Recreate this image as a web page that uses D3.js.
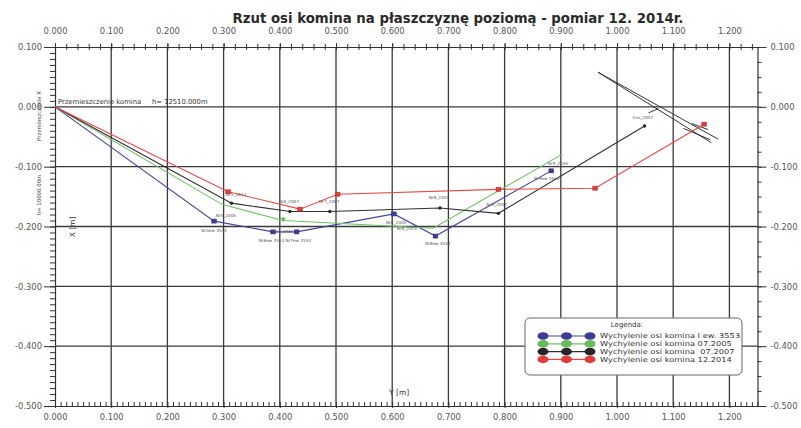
<!DOCTYPE html>
<html>
<head>
<meta charset="utf-8">
<script src="https://cdn.jsdelivr.net/npm/d3@7"></script>
<style>
  html, body { margin: 0; padding: 0; background: #fff; }
  svg { display: block; font-family: "DejaVu Sans", Verdana, sans-serif; }
  text { white-space: pre; }
</style>
</head>
<body>
<svg id="chart" width="801" height="428"></svg>
<script>
// Horizontal projection of the chimney axis — deflection (Y, X) in metres.
const titleText = "Rzut osi komina na płaszczyznę poziomą - pomiar 12. 2014r.";

const xTicks = [0, 0.1, 0.2, 0.3, 0.4, 0.5, 0.6, 0.7, 0.8, 0.9, 1.0, 1.1, 1.2];
const yTicks = [0.1, 0, -0.1, -0.2, -0.3, -0.4, -0.5];

// Series: Y offset (horizontal) and X offset (vertical) of successive levels
const seriesNames = [
  "Wychylenie osi komina I ew. 3553",
  "Wychylenie osi komina 07.2005",
  "Wychylenie osi komina  07.2007",
  "Wychylenie osi komina 12.2014"
];
const blueY  = [0, 0.283, 0.388, 0.430, 0.603, 0.677, 0.883];
const blueX  = [0, -0.191, -0.209, -0.209, -0.179, -0.216, -0.107];
const greenY = [0, 0.297, 0.406, 0.673, 0.903];
const greenX = [0, -0.163, -0.190, -0.203, -0.079];
const blackY = [0, 0.314, 0.418, 0.489, 0.685, 0.789, 1.049];
const blackX = [0, -0.161, -0.175, -0.175, -0.169, -0.178, -0.032];
const redY   = [0, 0.308, 0.436, 0.503, 0.789, 0.961, 1.155];
const redX   = [0, -0.142, -0.171, -0.146, -0.138, -0.136, -0.029];

// Point descriptions: text, Y, X
const pointLabels = [
  ["Nr5ew 3553", 0.283, -0.206],
  ["Nr5_2005", 0.304, -0.181],
  ["Nr5_2014", 0.322, -0.146],
  ["Nr6_2007", 0.416, -0.159],
  ["Nr7_2007", 0.488, -0.159],
  ["Nr6_2005", 0.406, -0.209],
  ["Nr6ew 3553 Nr7ew 3553", 0.409, -0.223],
  ["Nr8_2007", 0.683, -0.152],
  ["Nr9_2007", 0.786, -0.164],
  ["Nr8_2005", 0.607, -0.194],
  ["Nr8_2014", 0.626, -0.204],
  ["Nr8ew 3553", 0.681, -0.228],
  ["Nr9_2005", 0.895, -0.094],
  ["Nr9ew 3553", 0.875, -0.119],
  ["hxs_2007", 1.046, -0.017]
];

// Direction marker near the top of the chimney: segments [y1, x1, y2, x2]
const directionMarks = [
  [0.966, 0.058, 1.180, -0.054],
  [0.966, 0.058, 1.168, -0.060],
  [1.056, -0.010, 1.074, -0.003],
  [1.118, -0.036, 1.166, -0.055],
  [1.133, -0.028, 1.162, -0.038]
];

const colors = ["#3c3c94", "#66bb5a", "#262626", "#e23b3b"];
const lineColors = ["#45459a", "#72c066", "#303030", "#e84848"];

const svg = d3.select("#chart");
const plotL = 55, plotR = 757.5, plotT = 47, plotB = 406;

const x = d3.scaleLinear().domain([0, 1.25]).range([plotL, plotR]);
const y = d3.scaleLinear().domain([0.1, -0.5]).range([plotT, plotB]);
const fmt = v => d3.format(".3f")(v).replace("\u2212", "-");

// Title
svg.append("text")
  .attr("x", 458).attr("y", 23)
  .attr("text-anchor", "middle")
  .attr("font-size", 13.3).attr("font-weight", "bold").attr("fill", "#2a2a2a")
  .text(titleText);

// Grid
const grid = svg.append("g").attr("stroke", "#3a3a3a").attr("stroke-width", 1.3);
grid.selectAll("line.v").data(xTicks.filter(d => d > 0)).join("line")
  .attr("class", "v")
  .attr("x1", d => x(d)).attr("x2", d => x(d))
  .attr("y1", plotT).attr("y2", plotB);
grid.selectAll("line.h").data(yTicks.filter(d => d < 0.1 && d > -0.5)).join("line")
  .attr("class", "h")
  .attr("x1", plotL).attr("x2", plotR)
  .attr("y1", d => y(d)).attr("y2", d => y(d));

// Axes
function styleAxis(g) {
  g.selectAll("path.domain").attr("stroke", "#333").attr("stroke-width", 1.2);
  g.selectAll(".tick line").attr("stroke", "#333");
  g.selectAll(".tick text").attr("fill", "#555").attr("font-size", 8.4)
    .attr("font-family", "DejaVu Sans, Verdana, sans-serif");
}
const d001 = d3.range(0, 126).map(i => +(i * 0.01).toFixed(2));
const d002 = d3.range(0, 63).map(i => +(i * 0.02).toFixed(2));
const v001 = d3.range(0, 61).map(i => +(0.1 - i * 0.01).toFixed(2));
const v0025 = d3.range(0, 25).map(i => +(0.1 - i * 0.025).toFixed(3));

// top
svg.append("g").attr("transform", `translate(0,${plotT})`)
  .call(d3.axisTop(x).tickValues(d002).tickSizeInner(3).tickSizeOuter(0).tickFormat(""))
  .call(g => g.selectAll(".tick line").attr("y2", 3).attr("y1", -3))
  .call(styleAxis);
svg.append("g").attr("transform", `translate(0,${plotT})`)
  .call(d3.axisTop(x).tickValues(xTicks).tickSize(4).tickPadding(9).tickFormat(fmt))
  .call(styleAxis)
  .call(g => g.select("path.domain").remove());

// bottom
svg.append("g").attr("transform", `translate(0,${plotB})`)
  .call(d3.axisBottom(x).tickValues(d001).tickSizeInner(-4).tickSizeOuter(0).tickFormat(""))
  .call(styleAxis);
svg.append("g").attr("transform", `translate(0,${plotB})`)
  .call(d3.axisBottom(x).tickValues(xTicks).tickSize(2).tickPadding(6).tickFormat(fmt))
  .call(styleAxis)
  .call(g => g.select("path.domain").remove());

// left
svg.append("g").attr("transform", `translate(${plotL},0)`)
  .call(d3.axisLeft(y).tickValues(v001).tickSizeInner(5).tickSizeOuter(0).tickFormat(""))
  .call(styleAxis);
svg.append("g").attr("transform", `translate(${plotL},0)`)
  .call(d3.axisLeft(y).tickValues(yTicks).tickSize(11).tickPadding(2).tickFormat(fmt))
  .call(styleAxis)
  .call(g => g.select("path.domain").remove());

// right
svg.append("g").attr("transform", `translate(${plotR},0)`)
  .call(d3.axisRight(y).tickValues(v0025).tickSizeInner(4).tickSizeOuter(0).tickFormat(""))
  .call(styleAxis);
svg.append("g").attr("transform", `translate(${plotR},0)`)
  .call(d3.axisRight(y).tickValues(yTicks).tickSize(9).tickPadding(4).tickFormat(fmt))
  .call(styleAxis)
  .call(g => g.select("path.domain").remove());

// Axis captions
svg.append("text").attr("x", 58).attr("y", 104)
  .attr("font-size", 6.8).attr("fill", "#333")
  .text("Przemieszczenie komina     h= 12510.000m");
svg.append("text").attr("transform", "translate(41,116) rotate(-90)")
  .attr("text-anchor", "middle").attr("font-size", 5.4).attr("fill", "#444")
  .text("Przemieszczenie X");
svg.append("text").attr("transform", "translate(41,195) rotate(-90)")
  .attr("text-anchor", "middle").attr("font-size", 5.4).attr("fill", "#444")
  .text("h= 10000.00m");
svg.append("text").attr("transform", "translate(75,227) rotate(-90)")
  .attr("text-anchor", "middle").attr("font-size", 7.5).attr("fill", "#333")
  .text("X [m]");
svg.append("text").attr("x", 389).attr("y", 395)
  .attr("font-size", 7.5).attr("fill", "#333")
  .text("Y [m]");

// Direction marker
svg.append("g").attr("stroke", "#333").attr("stroke-width", 1)
  .selectAll("line").data(directionMarks).join("line")
  .attr("x1", d => x(d[0])).attr("y1", d => y(d[1]))
  .attr("x2", d => x(d[2])).attr("y2", d => y(d[3]));

// Series lines and markers
const series = [
  { ys: blueY, xs: blueX, c: 0, shape: "square" },
  { ys: greenY, xs: greenX, c: 1, shape: "tri" },
  { ys: blackY, xs: blackX, c: 2, shape: "dot" },
  { ys: redY, xs: redX, c: 3, shape: "square" }
];
const line = d3.line().x(d => x(d[0])).y(d => y(d[1]));
series.forEach(s => {
  const pts = s.ys.map((v, i) => [v, s.xs[i]]);
  svg.append("path").datum(pts)
    .attr("d", line).attr("fill", "none")
    .attr("stroke", lineColors[s.c]).attr("stroke-width", 1.1);
  const mk = pts.slice(1);
  const g = svg.append("g");
  if (s.shape === "square") {
    g.selectAll("rect").data(mk).join("rect")
      .attr("x", d => x(d[0]) - 2.3).attr("y", d => y(d[1]) - 2)
      .attr("width", 4.6).attr("height", 4)
      .attr("fill", colors[s.c]).attr("stroke", d3.color(colors[s.c]).darker(0.6)).attr("stroke-width", 0.6);
  } else if (s.shape === "dot") {
    g.selectAll("circle").data(mk).join("circle")
      .attr("cx", d => x(d[0])).attr("cy", d => y(d[1])).attr("r", 1.7)
      .attr("fill", colors[s.c]);
  } else {
    g.selectAll("path").data(mk.slice(1, 2)).join("path")
      .attr("d", d => `M${x(d[0]) - 2.5},${y(d[1]) - 3} L${x(d[0]) + 2.5},${y(d[1]) - 3} L${x(d[0])},${y(d[1]) + 2} Z`)
      .attr("fill", colors[s.c]);
  }
});

// Point descriptions
svg.append("g").selectAll("text").data(pointLabels).join("text")
  .attr("x", d => x(d[1])).attr("y", d => y(d[2]) + 1.5)
  .attr("text-anchor", "middle").attr("font-size", 4.2).attr("fill", "#555")
  .text(d => d[0]);

// Legend
const lg = svg.append("g").attr("transform", "translate(525,318)");
lg.append("rect").attr("width", 217).attr("height", 57).attr("rx", 5)
  .attr("fill", "#fff").attr("stroke", "#666").attr("stroke-width", 1);
lg.append("text").attr("x", 102).attr("y", 9).attr("text-anchor", "middle")
  .attr("font-size", 7).attr("fill", "#333").text("Legenda:");
seriesNames.forEach((name, i) => {
  const row = lg.append("g").attr("transform", `translate(0,${18 + i * 7.8})`);
  row.append("line").attr("x1", 18).attr("x2", 65).attr("stroke", lineColors[i]).attr("stroke-width", 1.2);
  [18, 41.5, 65].forEach(cx => row.append("ellipse")
    .attr("cx", cx).attr("rx", 5.5).attr("ry", 3.8).attr("fill", colors[i]));
  row.append("text").attr("transform", "translate(75,2.4) scale(1.22,1)")
    .attr("font-size", 6.8).attr("fill", "#333").text(name);
});
</script>
</body>
</html>
